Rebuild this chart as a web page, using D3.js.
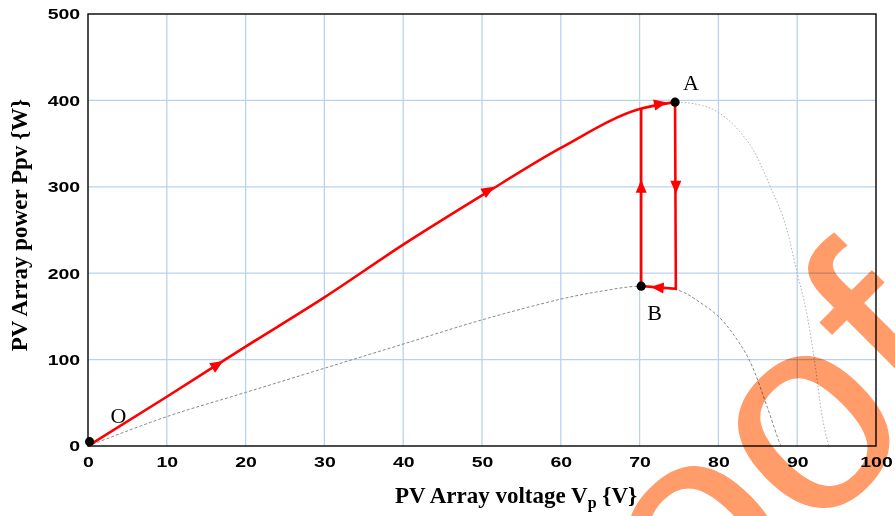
<!DOCTYPE html>
<html>
<head>
<meta charset="utf-8">
<script src="https://cdn.jsdelivr.net/npm/d3@7"></script>
<style>
  body { margin: 0; background: #fff; }
  .tick text { font-family: "Liberation Sans", Arial, sans-serif; font-weight: bold; font-size: 15px; fill: #000; }
  .title { font-family: "Liberation Serif", serif; font-weight: bold; font-size: 23px; }
  .ptlabel { font-family: "Liberation Serif", serif; font-size: 22px; }
</style>
</head>
<body>
<div id="chart"></div>
<script>
// high irradiance P-V curve (dotted)
const voltUpper  = [0, 10, 20, 30, 40, 50, 60, 70, 74.5, 78, 80, 82.4, 84.4, 86.5, 88.7, 90, 91.2, 92.3, 93.1, 94];
const powerUpper = [0, 57, 115, 172, 233, 290, 345, 390, 398, 394, 386, 367, 343, 302, 250, 200, 154, 92, 38, 0];
// low irradiance P-V curve (dashed)
const voltLower  = [0, 10, 20, 30, 40, 50, 60, 65, 70.2, 75, 77.7, 80, 82, 84, 86.2, 87.8, 88];
const powerLower = [0, 34, 62, 90, 118, 146, 170, 179, 185, 180, 166, 150, 128, 98, 45, 3, 0];
// red operating trajectory after the curve reaches A
const loopVolt  = [74.5, 74.6, 70.2, 70.2];
const loopPower = [398, 182, 185, 390];
// arrows on the trajectory
const arrowVolt  = [16.4, 50.8, 72.6, 74.6, 70.2, 72.3];
const arrowPower = [94, 296, 396, 300, 300, 183.5];
// marked points
const pointNames = ["O", "A", "B"];
const pointVolt  = [0.2, 74.5, 70.2];
const pointPower = [5, 398, 185];

const xTicks = [0, 10, 20, 30, 40, 50, 60, 70, 80, 90, 100];
const yTicks = [0, 100, 200, 300, 400, 500];

const W = 895, H = 516;
const margin = {top: 14, right: 19, bottom: 70, left: 88};
const width = W - margin.left - margin.right;
const height = H - margin.top - margin.bottom;

const svg = d3.select("#chart").append("svg")
    .attr("width", W)
    .attr("height", H);
const chart = svg.append("g")
    .attr("transform", `translate(${margin.left},${margin.top})`);

const x = d3.scaleLinear().domain([0, 100]).range([0, width]);
const y = d3.scaleLinear().domain([0, 500]).range([height, 0]);

// grid
chart.append("g").selectAll("line")
    .data(xTicks.slice(1, -1))
    .enter().append("line")
    .attr("x1", d => x(d)).attr("x2", d => x(d))
    .attr("y1", 0).attr("y2", height)
    .attr("stroke", "#b9d3ef").attr("stroke-width", 1.3);
chart.append("g").selectAll("line")
    .data(yTicks.slice(1, -1))
    .enter().append("line")
    .attr("x1", 0).attr("x2", width)
    .attr("y1", d => y(d)).attr("y2", d => y(d))
    .attr("stroke", "#b9d3ef").attr("stroke-width", 1.3);

// axes (labels are drawn wide, like the original)
const xAxis = d3.axisBottom(x).tickValues(xTicks).tickSize(0).tickPadding(10);
const yAxis = d3.axisLeft(y).tickValues(yTicks).tickSize(0).tickPadding(6);
chart.append("g").attr("class", "x axis")
    .attr("transform", `translate(0,${height})`)
    .call(xAxis)
    .call(g => g.select(".domain").remove())
    .call(g => g.selectAll("text").attr("transform", "scale(1.3,1)"));
chart.append("g").attr("class", "y axis")
    .call(yAxis)
    .call(g => g.select(".domain").remove())
    .call(g => g.selectAll("text").attr("transform", "scale(1.3,1)"));

// curves
const toPts = (vs, ps) => vs.map((v, i) => [x(v), y(ps[i])]);
const smooth = d3.line().curve(d3.curveMonotoneX);
const straight = d3.line();

chart.append("path")
    .attr("d", smooth(toPts(voltUpper, powerUpper)))
    .attr("fill", "none").attr("stroke", "#b0b0b0")
    .attr("stroke-width", 1).attr("stroke-dasharray", "1.5,2");
chart.append("path")
    .attr("d", d3.line().curve(d3.curveCatmullRom.alpha(0.5))(toPts(voltLower, powerLower)))
    .attr("fill", "none").attr("stroke", "#8a8a8a")
    .attr("stroke-width", 1).attr("stroke-dasharray", "3,2");

// red trajectory: along upper curve to A, then the loop A -> B -> back up
const iA = voltUpper.indexOf(74.5);
const curvePts = toPts(voltUpper.slice(0, iA + 1), powerUpper.slice(0, iA + 1));
const loopPts = toPts(loopVolt, loopPower);
chart.append("path")
    .attr("d", smooth(curvePts))
    .attr("fill", "none").attr("stroke", "#ff0000").attr("stroke-width", 2.6);
chart.append("path")
    .attr("d", straight(loopPts))
    .attr("fill", "none").attr("stroke", "#ff0000").attr("stroke-width", 2.6)
    .attr("stroke-linejoin", "miter");

// arrow heads, oriented along the nearest segment
const allSegs = [];
[curvePts, loopPts].forEach(pts => {
    for (let i = 0; i < pts.length - 1; i++) allSegs.push([pts[i], pts[i + 1]]);
});
function segDist(p, a, b) {
    const dx = b[0] - a[0], dy = b[1] - a[1];
    let t = ((p[0] - a[0]) * dx + (p[1] - a[1]) * dy) / (dx * dx + dy * dy);
    t = Math.max(0, Math.min(1, t));
    return Math.hypot(p[0] - a[0] - t * dx, p[1] - a[1] - t * dy);
}
const arrows = arrowVolt.map((v, i) => {
    const p = [x(v), y(arrowPower[i])];
    const seg = d3.least(allSegs, s => segDist(p, s[0], s[1]));
    const ang = Math.atan2(seg[1][1] - seg[0][1], seg[1][0] - seg[0][0]) * 180 / Math.PI;
    return {p, ang};
});
chart.append("g").selectAll("path")
    .data(arrows)
    .enter().append("path")
    .attr("d", "M7,0L-6,-5.5L-6,5.5Z")
    .attr("transform", d => `translate(${d.p[0]},${d.p[1]}) rotate(${d.ang})`)
    .attr("fill", "#ff0000");

// points + labels
const labelOffset = {O: [21, -19], A: [8, -12], B: [6, 34]};
pointNames.forEach((name, i) => {
    const px = x(pointVolt[i]), py = y(pointPower[i]);
    chart.append("circle")
        .attr("cx", px).attr("cy", py).attr("r", 4.6)
        .attr("fill", "#000");
    chart.append("text")
        .attr("class", "ptlabel")
        .attr("x", px + labelOffset[name][0])
        .attr("y", py + labelOffset[name][1])
        .text(name);
});

// frame
chart.append("rect")
    .attr("width", width).attr("height", height)
    .attr("fill", "none").attr("stroke", "#000").attr("stroke-width", 1.4);

// axis titles
const xt = svg.append("text")
    .attr("class", "title")
    .attr("x", 516).attr("y", 503)
    .attr("text-anchor", "middle");
xt.append("tspan").text("PV Array voltage V");
xt.append("tspan").attr("dy", 5).attr("font-size", 16).text("p");
xt.append("tspan").attr("dy", -5).text(" {V}");

svg.append("text")
    .attr("class", "title")
    .attr("transform", "translate(27,225) rotate(-90)")
    .attr("text-anchor", "middle")
    .text("PV Array power Ppv {W}");

// watermark
svg.append("text")
    .attr("transform", "translate(503,848) rotate(-45)")
    .attr("font-family", "Liberation Sans, Arial, sans-serif")
    .attr("font-size", 280)
    .attr("fill", "#ff9c6a")
    .style("mix-blend-mode", "multiply")
    .text("Proof");
</script>
</body>
</html>
